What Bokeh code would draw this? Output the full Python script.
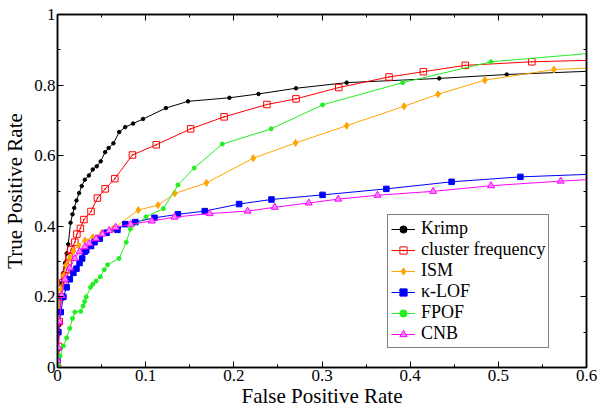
from bokeh.plotting import figure
from bokeh.models import FixedTicker, LinearAxis, Legend, LegendItem, Range1d, CustomLabelingPolicy
from bokeh.embed import file_html
from bokeh.resources import INLINE

krimp_x = [0, 0.001, 0.002, 0.003, 0.0048, 0.0067, 0.0085, 0.0104, 0.0122, 0.0148, 0.017, 0.019, 0.0215, 0.0245,
           0.0275, 0.031, 0.0356, 0.040, 0.0445, 0.049, 0.054, 0.058, 0.0634, 0.070, 0.0768, 0.0857, 0.097, 0.123,
           0.148, 0.195, 0.228, 0.2705, 0.328, 0.433, 0.5095, 0.6]
krimp_y = [0, 0.05, 0.12, 0.2, 0.24, 0.268, 0.296, 0.323, 0.349, 0.41, 0.434, 0.452, 0.473, 0.494, 0.514, 0.532,
           0.544, 0.561, 0.57, 0.584, 0.61, 0.622, 0.635, 0.667, 0.681, 0.691, 0.704, 0.735, 0.754, 0.764, 0.775,
           0.791, 0.807, 0.819, 0.830, 0.839]

cluster_x = [0, 0.001, 0.002, 0.004, 0.006, 0.008, 0.0104, 0.012, 0.013, 0.0152, 0.0197, 0.022, 0.026, 0.030, 0.038,
             0.0453, 0.054, 0.065, 0.085, 0.112, 0.151, 0.189, 0.2375, 0.2705, 0.319, 0.376, 0.415, 0.4625, 0.538, 0.6]
cluster_y = [0, 0.06, 0.13, 0.2, 0.24, 0.26, 0.277, 0.296, 0.314, 0.334, 0.355, 0.378, 0.394, 0.419, 0.442, 0.48,
             0.506, 0.535, 0.602, 0.631, 0.676, 0.710, 0.745, 0.761, 0.793, 0.823, 0.838, 0.856, 0.866, 0.87]

ism_x = [0, 0.001, 0.002, 0.004, 0.007, 0.010, 0.014, 0.018, 0.024, 0.031, 0.040, 0.0505, 0.0635, 0.0917, 0.114,
         0.133, 0.169, 0.222, 0.27, 0.328, 0.393, 0.4316, 0.4846, 0.563, 0.6]
ism_y = [0.04, 0.1, 0.16, 0.22, 0.26, 0.29, 0.31, 0.33, 0.345, 0.36, 0.369, 0.382, 0.394, 0.446, 0.46, 0.493, 0.523,
         0.593, 0.636, 0.685, 0.74, 0.774, 0.814, 0.844, 0.848]

klof_x = [0, 0.001, 0.0037, 0.0067, 0.0104, 0.014, 0.018, 0.0215, 0.025, 0.028, 0.0308, 0.0326, 0.038, 0.042, 0.048,
          0.0557, 0.068, 0.077, 0.0883, 0.11, 0.1366, 0.167, 0.206, 0.2427, 0.3006, 0.373, 0.447, 0.525, 0.6]
klof_y = [0.02, 0.1, 0.157, 0.2, 0.227, 0.25, 0.268, 0.28, 0.296, 0.309, 0.328, 0.332, 0.344, 0.355, 0.365, 0.382,
          0.39, 0.406, 0.412, 0.424, 0.434, 0.443, 0.463, 0.476, 0.489, 0.506, 0.526, 0.54, 0.547]

fpof_x = [0, 0.001, 0.003, 0.0067, 0.0104, 0.014, 0.017, 0.0197, 0.0264, 0.029, 0.0308, 0.0326, 0.0375, 0.04, 0.0438,
          0.0486, 0.053, 0.0568, 0.0698, 0.078, 0.0827, 0.1005, 0.12, 0.1366, 0.155, 0.187, 0.2423, 0.3006, 0.3915,
          0.4917, 0.6]
fpof_y = [0, 0.01, 0.033, 0.061, 0.084, 0.111, 0.139, 0.157, 0.159, 0.174, 0.187, 0.2, 0.227, 0.236, 0.245, 0.257,
          0.277, 0.291, 0.309, 0.355, 0.392, 0.427, 0.45, 0.517, 0.565, 0.633, 0.676, 0.744, 0.807, 0.866, 0.889]

cnb_x = [0, 0.001, 0.0022, 0.0048, 0.0085, 0.014, 0.0197, 0.025, 0.031, 0.036, 0.0438, 0.051, 0.0587, 0.066, 0.083,
         0.107, 0.1328, 0.1725, 0.2156, 0.2464, 0.285, 0.3184, 0.363, 0.426, 0.4917, 0.5707, 0.6]
cnb_y = [0.02, 0.056, 0.13, 0.204, 0.25, 0.282, 0.309, 0.328, 0.342, 0.351, 0.365, 0.378, 0.388, 0.397, 0.406, 0.415,
         0.426, 0.436, 0.443, 0.454, 0.466, 0.477, 0.488, 0.499, 0.515, 0.528, 0.532]

x_ticks = [0, 0.1, 0.2, 0.3, 0.4, 0.5, 0.6]
x_minor = [0.05, 0.15, 0.25, 0.35, 0.45, 0.55]
y_ticks = [0, 0.2, 0.4, 0.6, 0.8, 1]
y_minor = [0.1, 0.3, 0.5, 0.7, 0.9]

SERIF = "Liberation Serif"

p = figure(frame_width=529, frame_height=353, output_backend="svg", toolbar_location=None,
           x_range=Range1d(0, 0.6), y_range=Range1d(0, 1),
           min_border_left=47, min_border_right=12, min_border_top=8, min_border_bottom=4)
p.xaxis.visible = False
p.yaxis.visible = False
p.grid.visible = False
p.outline_line_color = "black"
p.outline_line_width = 1.5


def style_axis(ax, labels=True):
    ax.major_tick_in = 6
    ax.major_tick_out = 0
    ax.minor_tick_in = 3
    ax.minor_tick_out = 0
    ax.axis_line_color = "black"
    ax.axis_line_width = 1.5
    ax.major_tick_line_color = "black"
    ax.minor_tick_line_color = "black"
    ax.major_label_text_font = SERIF
    ax.major_label_text_font_size = "17px"
    ax.major_label_text_color = "black"
    ax.major_label_standoff = 2 if labels else 0
    ax.axis_label_text_font = SERIF
    ax.axis_label_text_font_size = "21px"
    ax.axis_label_text_font_style = "normal"
    ax.axis_label_text_color = "black"
    ax.axis_label_standoff = 0
    if not labels:
        ax.major_label_policy = CustomLabelingPolicy(code="""
for (const i of indices)
    indices.unset(i)
""")


xt = FixedTicker(ticks=x_ticks, minor_ticks=x_minor)
yt = FixedTicker(ticks=y_ticks, minor_ticks=y_minor)
xo = {0: "0", 0.1: "0.1", 0.2: "0.2", 0.3: "0.3", 0.4: "0.4", 0.5: "0.5", 0.6: "0.6"}
yo = {0: "0", 0.2: "0.2", 0.4: "0.4", 0.6: "0.6", 0.8: "0.8", 1: "1"}

xb = LinearAxis(ticker=xt, axis_label="False Positive Rate", major_label_overrides=xo)
style_axis(xb)
yl = LinearAxis(ticker=yt, axis_label="True Positive Rate", major_label_overrides=yo)
style_axis(yl)
yl.axis_label_standoff = 4
xa = LinearAxis(ticker=xt)
style_axis(xa, labels=False)
yr = LinearAxis(ticker=yt)
style_axis(yr, labels=False)
p.add_layout(xb, "below")
p.add_layout(yl, "left")
p.add_layout(xa, "above")
p.add_layout(yr, "right")

series = [
    ("Krimp", krimp_x, krimp_y, "black", "circle", 3.5, "black"),
    ("cluster frequency", cluster_x, cluster_y, "#ff0000", "square_dot", 6.5, None),
    ("ISM", ism_x, ism_y, "#ffa500", "diamond", 7, "#ffa500"),
    ("\u03ba-LOF", klof_x, klof_y, "#0000ff", "square", 5.5, "#0000ff"),
    ("FPOF", fpof_x, fpof_y, "#22ee22", "circle", 4, "#22ee22"),
    ("CNB", cnb_x, cnb_y, "#ff00ff", "triangle", 7, "#ff88ff"),
]

items = []
for name, xs, ys, col, mk, sz, fill in series:
    ln = p.line(xs, ys, line_color=col, line_width=1)
    sc = p.scatter(xs[:-1], ys[:-1], marker=mk, size=sz, line_color=col,
                   fill_color=fill if fill else None, line_width=1)
    items.append(LegendItem(label=name, renderers=[ln, sc]))

legend = Legend(items=items, location=(330, 19))
legend.label_text_font = SERIF
legend.label_text_font_size = "18px"
legend.label_text_color = "black"
legend.label_height = 18
legend.glyph_height = 18
legend.glyph_width = 24
legend.spacing = -3
legend.padding = 3
legend.margin = 0
legend.label_standoff = 6
legend.border_line_color = "black"
legend.border_line_width = 1
legend.background_fill_color = "white"
legend.background_fill_alpha = 1
p.add_layout(legend, "center")

open("out.html", "w").write(file_html(p, INLINE))
